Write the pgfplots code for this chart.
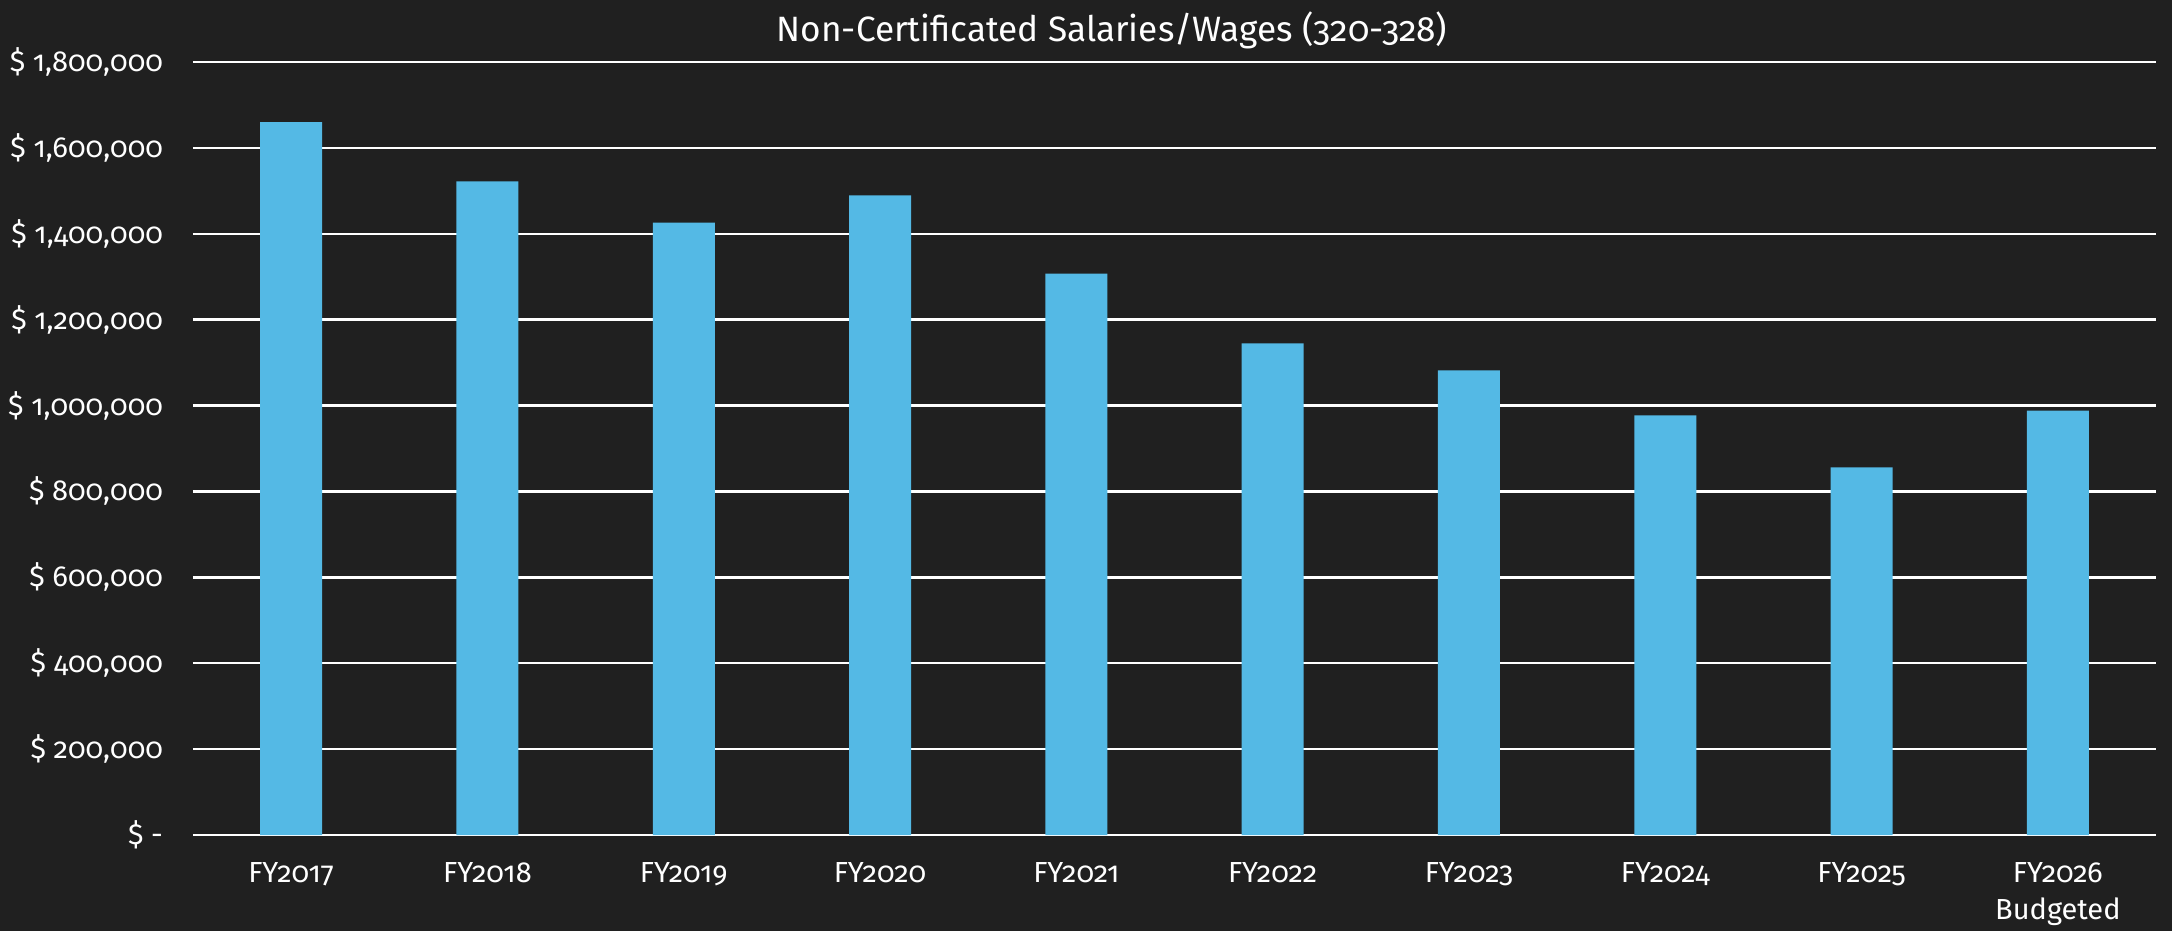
\documentclass[border=0pt]{standalone}
\usepackage{fontspec}
\setmainfont[Numbers=OldStyle]{Fira Sans}
\usepackage{pgfplots}
\pgfplotsset{compat=1.18}
\definecolor{bg}{RGB}{32,32,32}
\definecolor{barblue}{RGB}{84,185,229}
\begin{document}
\begin{tikzpicture}
\path[use as bounding box, fill=bg] (-96.5pt,-48pt) rectangle (989.5pt,417.5pt);
\begin{axis}[
  at={(0,0)}, anchor=south west,
  scale only axis, width=981.5pt, height=386.5pt,
  xmin=-0.5, xmax=9.5, ymin=0, ymax=1800000,
  enlargelimits=false,
  scaled y ticks=false,
  ybar, bar width=31pt,
  axis line style={draw=none},
  major tick length=0pt,
  ymajorgrids, grid style={white, line width=1.2pt},
  xtick={0,1,2,3,4,5,6,7,8,9},
  xticklabels={FY2017,FY2018,FY2019,FY2020,FY2021,FY2022,FY2023,FY2024,FY2025,{FY2026\\Budgeted}},
  xticklabel style={align=center, text=white, font=\fontsize{14.5}{18.5}\selectfont, yshift=-10pt},
  ytick={0,200000,400000,600000,800000,1000000,1200000,1400000,1600000,1800000},
  yticklabels={{\$ -},{\$ 200,000},{\$ 400,000},{\$ 600,000},{\$ 800,000},{\$ 1,000,000},{\$ 1,200,000},{\$ 1,400,000},{\$ 1,600,000},{\$ 1,800,000}},
  yticklabel style={text=white, font=\fontsize{14.5}{17}\selectfont, xshift=-11.5pt},
]
\addplot[fill=barblue, draw=none] coordinates {
  (0,1660000) (1,1522000) (2,1426000) (3,1489500) (4,1307000)
  (5,1145000) (6,1082000) (7,977000) (8,856000) (9,988000)
};
\end{axis}
\node[anchor=base, text=white, font=\fontsize{17.6}{21}\selectfont] at (459.5pt,396.5pt) {Non-Certificated Salaries/Wages (320-328)};
\end{tikzpicture}
\end{document}
